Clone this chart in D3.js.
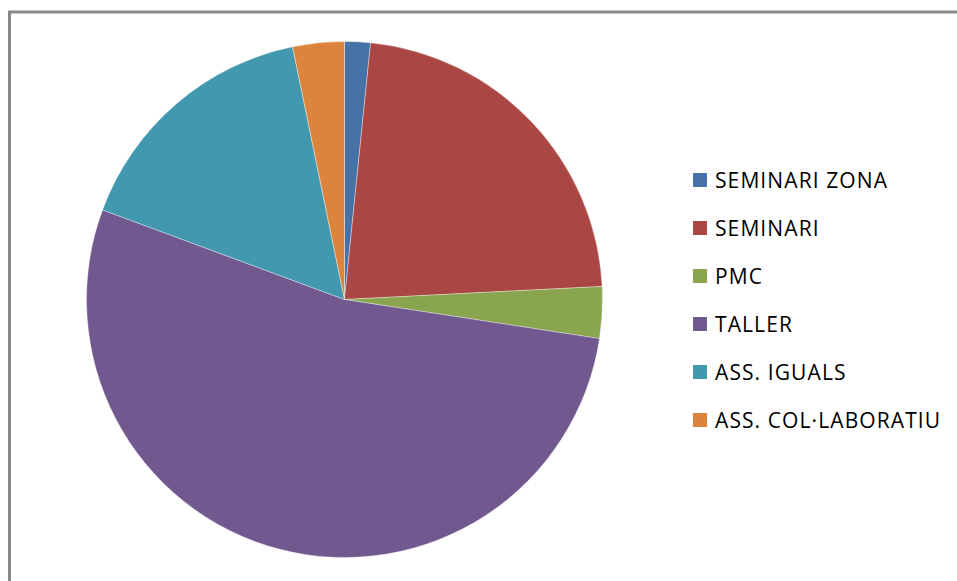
<!DOCTYPE html>
<html lang="ca">
  <head>
    <meta charset="UTF-8" />
    <title>Pie</title>
    <script src="https://d3js.org/d3.v7.min.js"></script>
    <style>
      body {
        margin: 0;
        background: #fff;
      }
      .label {
        font-family: "Open Sans", sans-serif;
        font-size: 21px;
        letter-spacing: 1.1px;
        font-feature-settings: "locl" 0, "liga" 0;
        fill: #000;
      }
    </style>
  </head>
  <body></body>
  <script>
    // categories and counts
    const categories = [
      "SEMINARI ZONA",
      "SEMINARI",
      "PMC",
      "TALLER",
      "ASS. IGUALS",
      "ASS. COL·LABORATIU",
    ];
    const values = [1, 14, 2, 33, 10, 2];
    const colors = ["#4572A7", "#AA4643", "#89A54E", "#71588F", "#4198AF", "#DB843D"];

    const width = 957;
    const height = 581;

    const data = categories.map((c, i) => ({ name: c, value: values[i] }));

    const svg = d3
      .select("body")
      .append("svg")
      .attr("width", width)
      .attr("height", height);

    // chart frame (runs off the right and bottom edges)
    svg
      .append("rect")
      .attr("x", 9.5)
      .attr("y", 12)
      .attr("width", 980)
      .attr("height", 600)
      .attr("fill", "none")
      .attr("stroke", "#878787")
      .attr("stroke-width", 3);

    const color = d3.scaleOrdinal().domain(categories).range(colors);

    const pie = d3.pie().sort(null).value((d) => d.value);
    const arc = d3.arc().innerRadius(0).outerRadius(258);

    const g = svg.append("g").attr("transform", "translate(344.5, 299.5)");

    g.selectAll("path")
      .data(pie(data))
      .enter()
      .append("path")
      .attr("d", arc)
      .attr("fill", (d) => color(d.data.name))
      .attr("stroke", "rgba(255,255,255,0.45)")
      .attr("stroke-width", 0.8);

    // legend
    const legendY = d3.scalePoint().domain(categories).range([180, 420]);

    const items = svg
      .selectAll(".legend")
      .data(categories)
      .enter()
      .append("g")
      .attr("class", "legend")
      .attr("transform", (d) => `translate(693, ${legendY(d)})`);

    items
      .append("rect")
      .attr("x", 0)
      .attr("y", -7)
      .attr("width", 14)
      .attr("height", 14)
      .attr("fill", (d) => color(d));

    items
      .append("text")
      .attr("class", "label")
      .attr("x", 22)
      .attr("y", 7.5)
      .text((d) => d);
  </script>
</html>
